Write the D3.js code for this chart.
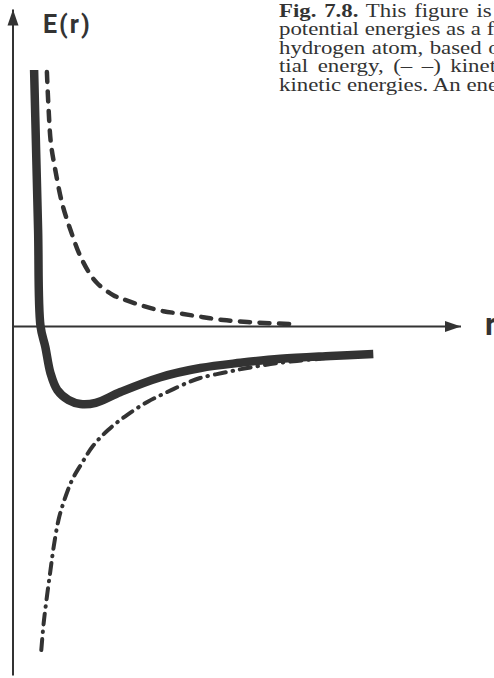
<!DOCTYPE html>
<html>
<head>
<meta charset="utf-8">
<script src="https://cdn.jsdelivr.net/npm/d3@7/dist/d3.min.js"></script>
<style>
  html, body { margin: 0; padding: 0; background: #fff; }
  svg { display: block; }
</style>
</head>
<body>
<script>
// Energy of the hydrogen atom versus electron–proton distance r (schematic units)

// total energy (kinetic + potential)
const totalR = [0.54, 0.59, 0.64, 0.70, 0.82, 0.95, 1.12, 1.40, 1.70, 2.08, 2.70, 3.70, 4.70, 5.70, 6.70, 7.95, 9.02];
const totalE = [6.40, 4.40, 2.40, 0.00, -0.52, -1.18, -1.60, -1.85, -1.95, -1.92, -1.65, -1.28, -1.05, -0.92, -0.82, -0.75, -0.70];

// kinetic energy
const kineticR = [0.86, 0.90, 0.96, 1.07, 1.24, 1.45, 1.74, 2.09, 2.52, 2.77, 3.27, 3.77, 4.27, 4.77, 5.27, 5.87, 6.44, 6.99];
const kineticE = [6.35, 5.47, 4.57, 3.90, 3.07, 2.40, 1.65, 1.10, 0.77, 0.67, 0.50, 0.37, 0.30, 0.22, 0.15, 0.10, 0.07, 0.05];

// potential energy
const potentialR = [0.72, 0.78, 0.86, 0.95, 1.03, 1.15, 1.28, 1.49, 1.74, 2.01, 2.39, 2.87, 3.37, 3.87, 4.37, 4.69, 5.27, 5.87, 6.69, 7.69];
const potentialE = [-8.10, -7.42, -6.77, -6.10, -5.52, -4.85, -4.40, -3.85, -3.42, -3.00, -2.60, -2.22, -1.90, -1.65, -1.42, -1.30, -1.17, -1.05, -0.92, -0.82];

// axis titles and caption lines (justified caption running on past the right edge)
const yTitle = "E(r)";
const xTitle = "r";
const captionLines = [
  { bold: "Fig. 7.8.", text: " This figure is a schematic", spacing: 1.6 },
  { bold: "", text: "potential energies as a function", spacing: 0 },
  { bold: "", text: "hydrogen atom, based on the", spacing: 0.6 },
  { bold: "", text: "tial energy, (– –) kinetic", spacing: 3 },
  { bold: "", text: "kinetic energies. An energy", spacing: 0 }
];

const W = 494, H = 678;
const ink = "#333";

const svg = d3.select("body").append("svg")
  .attr("width", W).attr("height", H)
  .attr("viewBox", `0 0 ${W} ${H}`);

const x = d3.scaleLinear().domain([0, 11.2]).range([12.5, 460.5]);
const y = d3.scaleLinear().domain([-8.725, 7.925]).range([675, 9]);

// arrowhead for the axes
svg.append("defs").append("marker")
  .attr("id", "arrow")
  .attr("markerUnits", "userSpaceOnUse")
  .attr("viewBox", "0 -6 17 12")
  .attr("refX", 16).attr("refY", 0)
  .attr("markerWidth", 17).attr("markerHeight", 12)
  .attr("orient", "auto")
  .append("path")
  .attr("d", "M0,-5.5L16,0L0,5.5Z")
  .attr("fill", ink);

const xAxis = svg.append("g")
  .attr("transform", `translate(0,${y(0)})`)
  .call(d3.axisBottom(x).tickValues([]).tickSizeOuter(0));
const yAxis = svg.append("g")
  .attr("transform", `translate(${x(0)},0)`)
  .call(d3.axisLeft(y).tickValues([]).tickSizeOuter(0));
[xAxis, yAxis].forEach(g => g.select(".domain")
  .attr("stroke", ink).attr("stroke-width", 2)
  .attr("marker-end", "url(#arrow)"));

const line = d3.line()
  .x(d => x(d[0])).y(d => y(d[1]))
  .curve(d3.curveCatmullRom.alpha(0.5));

const zip = (a, b) => a.map((v, i) => [v, b[i]]);

// potential energy: dash-dot
svg.append("path")
  .attr("d", line(zip(potentialR, potentialE)))
  .attr("fill", "none").attr("stroke", ink)
  .attr("stroke-width", 4).attr("stroke-linecap", "round")
  .attr("stroke-dasharray", "11,7,0.5,7");

// kinetic energy: dashed
svg.append("path")
  .attr("d", line(zip(kineticR, kineticE)))
  .attr("fill", "none").attr("stroke", ink)
  .attr("stroke-width", 4.5).attr("stroke-linecap", "round")
  .attr("stroke-dasharray", "10,9.5");

// total energy: heavy solid
svg.append("path")
  .attr("d", line(zip(totalR, totalE)))
  .attr("fill", "none").attr("stroke", ink)
  .attr("stroke-width", 8.5).attr("stroke-linecap", "butt");

// axis titles
svg.append("text")
  .attr("x", 43).attr("y", 33)
  .attr("font-family", "Roboto").attr("font-weight", 700)
  .attr("font-size", 25).attr("letter-spacing", 2)
  .attr("fill", ink).text(yTitle);
svg.append("text")
  .attr("x", 485).attr("y", 335)
  .attr("font-family", "Roboto").attr("font-weight", 700)
  .attr("font-size", 31)
  .attr("fill", ink).text(xTitle);

// caption block, wide-set serif
const cap = svg.append("g")
  .attr("transform", "translate(279,0) scale(1.27,1)")
  .attr("font-family", "Liberation Serif")
  .attr("font-size", 18)
  .attr("fill", ink);
captionLines.forEach((l, i) => {
  const t = cap.append("text").attr("x", 0).attr("y", 17 + i * 18.4)
    .attr("word-spacing", l.spacing);
  if (l.bold) t.append("tspan").attr("font-weight", 700).text(l.bold);
  t.append("tspan").text(l.text);
});
</script>
</body>
</html>
